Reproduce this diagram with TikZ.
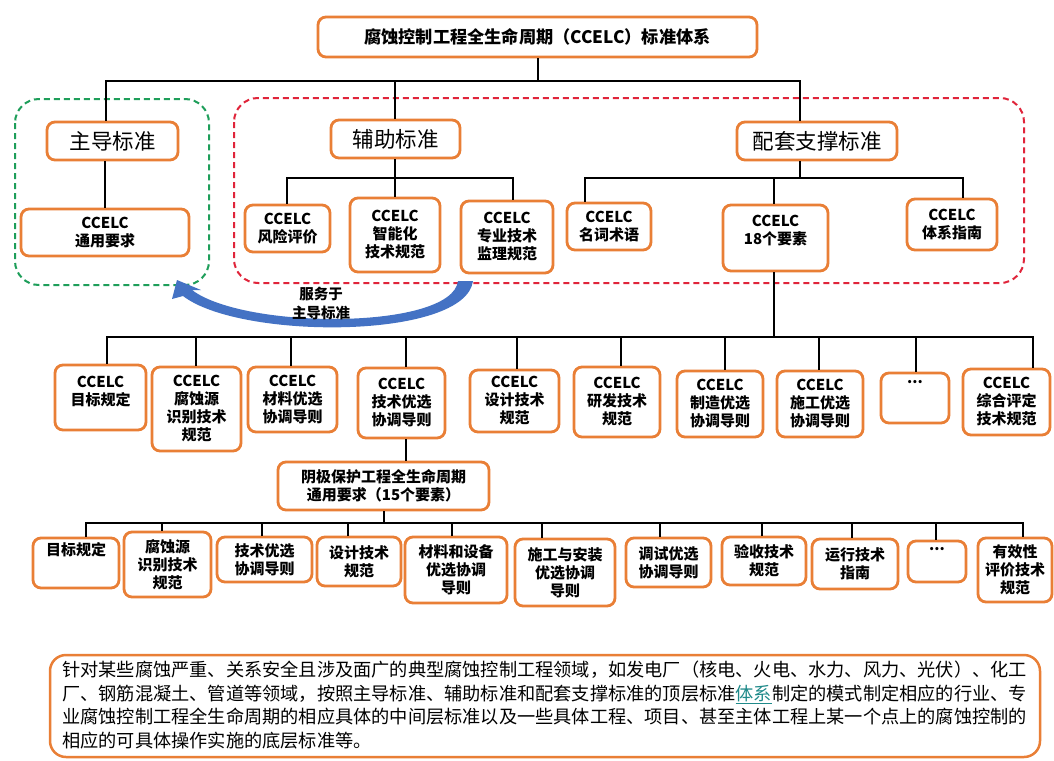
\documentclass[tikz,border=0pt]{standalone}
\usepackage{fontspec}
\setmainfont{Noto Sans CJK SC}
\usetikzlibrary{arrows.meta}
\definecolor{orbox}{HTML}{E97F36}
\definecolor{dgreen}{HTML}{1E9E5A}
\definecolor{dred}{HTML}{E0243A}
\definecolor{ablue}{HTML}{4472C4}
\definecolor{linkc}{HTML}{1F8A8A}
% #1 style, #2 x1, #3 y1, #4 x2, #5 y2, #6 name
\newcommand\bx[6]{\node[#1, minimum width={(#4-#2)*1pt}, minimum height={(#5-#3)*1pt}] (#6) at ({(#2+#4)/2},{(#3+#5)/2})}
\begin{document}
\begin{tikzpicture}[x=1pt,y=-1pt,
  box/.style={draw=orbox, line width=2.8pt, rounded corners=8pt, fill=white, inner sep=0pt, align=center, font=\fontsize{15}{18}\selectfont\bfseries},
  big/.style={box, font=\fontsize{21.5}{24}\selectfont},
  ttl/.style={box, font=\fontsize{17.2}{20}\selectfont\bfseries},
  notebox/.style={draw=orbox, line width=2.5pt, rounded corners=16pt, fill=white, inner sep=0pt},
  bus/.style={line width=2pt, draw=black},
  zone/.style={line width=2pt, dash pattern=on 6pt off 4pt, rounded corners=24pt},
  txt/.style={inner sep=0pt, align=center, font=\fontsize{15}{18}\selectfont\bfseries},
  lbl/.style={inner sep=0pt, align=center, font=\fontsize{14.5}{19}\selectfont\bfseries},
  para/.style={inner sep=0pt, align=left, font=\fontsize{18.2}{23.5}\selectfont}]
\useasboundingbox (0,0) rectangle (1054,760);
\fill[white] (0,0) rectangle (1054,760);

% bus levels
\coordinate (yA) at (0,81);
\coordinate (yB) at (0,178);
\coordinate (yC) at (0,337);
\coordinate (yD) at (0,523);

% dashed zones
\draw[zone, draw=dgreen] (15,99) rectangle (209,285);
\draw[zone, draw=dred] (234,98) rectangle (1024,283);

% nodes: top
\bx{ttl}{318}{17}{757}{57}{title} {腐蚀控制工程全生命周期（CCELC）标准体系};
\bx{big}{47}{122}{178}{160}{zhudao} {主导标准};
\bx{box}{21}{209}{189}{256}{tongyong} {CCELC\\通用要求};
\bx{big}{331}{120}{460}{158}{fuzhu} {辅助标准};
\bx{box}{245}{205}{330}{252}{fengxian} {CCELC\\风险评价};
\bx{box}{350}{198}{440}{272}{zhineng} {CCELC\\智能化\\技术规范};
\bx{box}{461}{201}{553}{273}{zhuanye} {CCELC\\专业技术\\监理规范};
\bx{big}{737}{122}{897}{160}{peitao} {配套支撑标准};
\bx{box}{567}{203}{651}{250}{mingci} {CCELC\\名词术语};
\bx{box}{723}{205}{828}{271}{ys18} {};
\node[txt, anchor=north] at ([yshift=-11pt]ys18.north) {CCELC\\18个要素};
\bx{box}{907}{199}{997}{250}{tixi} {CCELC\\体系指南};

% middle row
\bx{box}{55}{365}{146}{430}{m1} {};
\node[txt, anchor=north] at ([yshift=-12pt]m1.north) {CCELC\\目标规定};
\bx{box}{152}{367}{241}{451}{m2} {CCELC\\腐蚀源\\识别技术\\规范};
\bx{box}{248}{367}{337}{432}{m3} {CCELC\\材料优选\\协调导则};
\bx{box}{358}{368}{445}{438}{m4} {CCELC\\技术优选\\协调导则};
\bx{box}{470}{370}{559}{432}{m5} {CCELC\\设计技术\\规范};
\bx{box}{574}{367}{660}{437}{m6} {CCELC\\研发技术\\规范};
\bx{box}{677}{371}{763}{437}{m7} {CCELC\\制造优选\\协调导则};
\bx{box}{777}{371}{863}{437}{m8} {CCELC\\施工优选\\协调导则};
\bx{box}{881}{373}{949}{423}{m9} {};
\node[txt, anchor=north] at ([yshift=-9pt]m9.north) {...};
\bx{box}{963}{369}{1050}{435}{m10} {CCELC\\综合评定\\技术规范};

\bx{box}{278}{462}{489}{510}{yinji} {阴极保护工程全生命周期\\通用要求（15个要素）};

% bottom row
\bx{box}{33}{538}{119}{588}{b1} {};
\node[txt, anchor=north] at ([yshift=-6pt]b1.north) {目标规定};
\bx{box}{124}{532}{211}{597}{b2} {腐蚀源\\识别技术\\规范};
\bx{box}{217}{537}{312}{582}{b3} {技术优选\\协调导则};
\bx{box}{317}{537}{401}{586}{b4} {设计技术\\规范};
\bx{box}{405}{537}{507}{603}{b5} {材料和设备\\优选协调\\导则};
\bx{box}{515}{539}{615}{606}{b6} {施工与安装\\优选协调\\导则};
\bx{box}{626}{538}{711}{587}{b7} {调试优选\\协调导则};
\bx{box}{722}{537}{806}{585}{b8} {验收技术\\规范};
\bx{box}{812}{539}{898}{589}{b9} {运行技术\\指南};
\bx{box}{908}{541}{966}{582}{b10} {};
\node[txt, anchor=north] at ([yshift=-8pt]b10.north) {...};
\bx{box}{978}{538}{1052}{602}{b11} {有效性\\评价技术\\规范};

% connectors
\draw[bus] (title.south) -- (title.south |- yA);
\draw[bus] (106,0 |- zhudao.north) |- (800,81) -- (800,0 |- peitao.north);
\draw[bus] (fuzhu.north -| 395,0) -- (395,0 |- yA);
\draw[bus] (105,0 |- zhudao.south) -- (105,0 |- tongyong.north);
\draw[bus] (fuzhu.south -| 395,0) -- (395,0 |- yB);
\draw[bus] (fengxian.north -| 287,0) |- (513,178) -- (513,0 |- zhuanye.north);
\draw[bus] (395,178) -- (395,0 |- zhineng.north);
\draw[bus] (peitao.south -| 800,0) -- (800,0 |- yB);
\draw[bus] (mingci.north -| 585,0) |- (963,178) -- (963,0 |- tixi.north);
\draw[bus] (774,178) -- (774,0 |- ys18.north);
\draw[bus] (ys18.south -| 774,0) -- (774,0 |- yC);
\draw[bus] (m1.north -| 107,0) |- (1033,337) -- (1033,0 |- m10.north);
\foreach \xx/\nn in {196/m2,291/m3,406/m4,517/m5,621/m6,725/m7,819/m8,916/m9}
  \draw[bus] (\xx,337) -- (\xx,0 |- \nn.north);
\draw[bus] (m4.south -| 406,0) -- (406,0 |- yinji.north);
\draw[bus] (yinji.south) -- (yinji.south |- yD);
\draw[bus] (b1.north -| 86,0) |- (1023,523) -- (1023,0 |- b11.north);
\foreach \xx/\nn in {162/b2,262/b3,348/b4,452/b5,542/b6,660/b7,762/b8,852/b9,936/b10}
  \draw[bus] (\xx,523) -- (\xx,0 |- \nn.north);

% blue curved arrow
\fill[ablue] (473,281) .. controls (465,340) and (240,340) .. (183,296)
  -- (172,299) -- (177,280) -- (201,290) -- (192,290)
  .. controls (245,330) and (452,330) .. (458,281) -- cycle;
\node[lbl] (fw) at (321,303) {服务于\\主导标准};

% note box
\bx{notebox}{50}{655}{1040}{757}{note} {};
\node[para, anchor=west] (notetext) at (62,705) {针对某些腐蚀严重、关系安全且涉及面广的典型腐蚀控制工程领域，如发电厂（核电、火电、水力、风力、光伏）、化工\\厂、钢筋混凝土、管道等领域，按照主导标准、辅助标准和配套支撑标准的顶层标准\textcolor{linkc}{\underline{体系}}制定的模式制定相应的行业、专\\业腐蚀控制工程全生命周期的相应具体的中间层标准以及一些具体工程、项目、甚至主体工程上某一个点上的腐蚀控制的\\相应的可具体操作实施的底层标准等。};
\end{tikzpicture}
\end{document}
